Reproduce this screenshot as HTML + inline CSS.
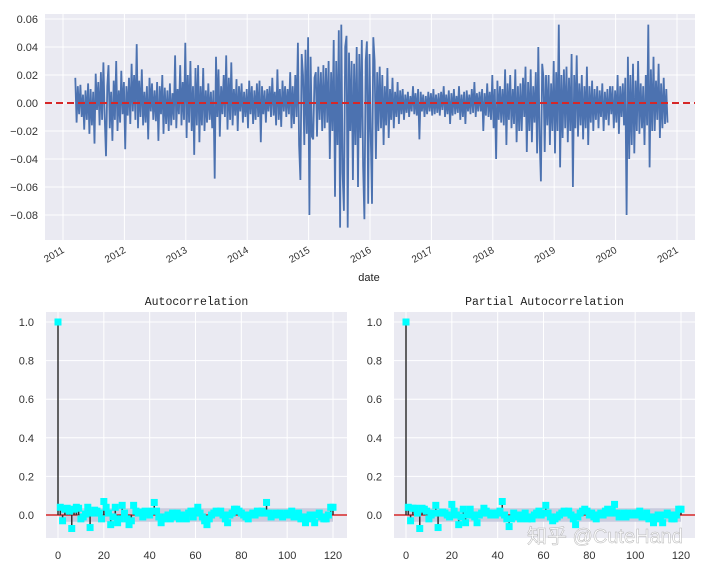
<!DOCTYPE html>
<html><head><meta charset="utf-8"><style>
body{margin:0;background:#fff;width:708px;height:564px;overflow:hidden}
svg{display:block;font-family:"Liberation Sans","Noto Sans CJK SC",sans-serif}
</style></head><body>
<svg id="c" width="708" height="564"></svg>
<script>
// ---- data ----
const returnsPerMille = [
// 2011.2 - 2012.2
18,-14,12,-8,13,-10,6,-19,9,-12,14,-22,10,-16,8,-29,21,-5,15,-16,22,-12,29,-10,
-38,12,27,-18,8,-27,16,-12,30,-20,9,-14,23,-8,15,-33,12,-9,18,-15,28,-6,20,-12,
// 2012.2 - 2013.2
42,-18,16,-10,24,-16,8,-14,12,-26,18,-6,14,-12,9,-13,15,-27,12,-8,20,-22,11,-15,
9,-20,14,-16,7,-12,34,-18,10,-8,27,-16,15,-12,43,-25,20,-14,30,-20,12,-37,25,-16,
// 2013.2 - 2014.2
27,-28,12,-16,25,-20,9,-14,14,-12,8,-18,9,-54,33,-10,24,-24,12,-8,20,-10,34,-19,
18,-12,29,-16,10,-9,17,-20,12,-6,14,-14,8,-10,10,-18,16,-8,12,-15,9,-12,14,-10,
// 2014.2 - 2015.2
16,-28,12,-8,9,-14,10,-6,12,-10,18,-9,8,-16,24,-12,10,-17,16,-6,12,-10,10,-8,
22,-18,12,-15,20,-10,43,-30,-55,35,20,-30,38,-22,47,-80,33,-24,-26,18,22,-24,26,-12,
// 2015.2 - 2016.2
22,-20,27,-18,25,-14,30,-40,22,-20,45,-67,30,-30,52,-89,56,-50,-77,40,48,-89,36,-20,
30,-55,28,-30,40,-60,35,-25,45,-45,-83,30,44,-72,35,-25,-72,47,30,-40,22,-20,26,-18,
// 2016.2 - 2017.2
20,-30,12,-16,25,-25,10,-12,18,-18,8,-10,15,-15,9,-8,10,-12,6,-7,8,-10,5,-6,
12,-8,7,-9,10,-26,8,-6,6,-10,5,-8,8,-6,7,-9,10,-8,6,-7,7,-9,8,-5,
// 2017.2 - 2018.2
12,-10,6,-8,9,-15,7,-9,10,-8,5,-7,12,-12,6,-10,8,-15,9,-6,6,-8,10,-7,
15,-10,7,-6,8,-6,10,-20,7,-9,14,-10,8,-12,20,-18,10,-40,16,-12,12,-14,10,-16,
// 2018.2 - 2019.2
24,-30,14,-12,20,-18,10,-15,24,-28,12,-20,14,-20,18,-10,26,-35,15,-20,24,-28,12,-14,
22,-36,40,-25,-56,28,18,-35,20,-16,20,-30,14,-20,30,-36,22,-20,56,-46,20,-25,24,-18,
// 2019.2 - 2020.2
26,-28,18,-20,35,-60,20,-18,34,-24,14,-16,20,-26,12,-18,26,-30,12,-14,16,-20,10,-12,
12,-18,9,-10,14,-20,8,-12,10,-16,12,-8,12,-18,9,-14,20,-22,12,-10,14,-16,18,-80,
// 2020.2 - 2020.85
33,-40,20,-30,28,-36,16,-20,30,-22,14,-18,12,-30,20,-16,56,-46,24,-20,33,-20,16,-12,
28,-25,14,-18,18,-15,10,-14];
const startYear = 2011.2;
const stepYears = 1/48;
const yearTicks = [2011,2012,2013,2014,2015,2016,2017,2018,2019,2020,2021];
const topYTicks = [0.06,0.04,0.02,0.00,-0.02,-0.04,-0.06,-0.08];
const acfValues = [1,0.04,-0.03,0.03,0.035,0.02,-0.07,0.03,0.04,0.035,-0.02,-0.01,0.005,0.04,-0.065,0.01,0.025,0.02,0.01,-0.02,
0.07,0.04,0.01,-0.05,-0.01,0.04,-0.04,-0.02,0.05,0.01,-0.02,-0.05,-0.03,0.05,0.02,0.01,0.015,-0.01,0.02,0.01,
0.0,0.02,0.065,0.02,-0.01,-0.04,-0.02,-0.01,0.0,-0.02,0.01,-0.01,0.01,-0.02,0.0,-0.01,-0.02,0.01,0.02,-0.01,
0.02,0.04,0.01,-0.01,-0.03,-0.05,-0.02,0.0,0.01,0.02,0.01,0.02,0.0,-0.02,-0.04,0.0,0.01,0.03,0.03,0.02,
0.01,0.0,-0.01,-0.02,0.0,0.01,0.0,0.02,0.01,0.02,0.01,0.065,0.01,-0.01,0.0,0.01,0.0,0.01,-0.01,0.0,
0.01,0.0,0.02,-0.01,0.0,0.01,-0.02,-0.01,-0.04,-0.02,0.0,-0.01,-0.04,0.0,0.01,-0.01,-0.02,-0.02,0.0,0.04,0.04];
const pacfValues = [1,0.04,-0.03,0.035,0.035,0.01,-0.07,0.035,0.03,0.02,-0.02,0.0,0.01,0.05,-0.065,0.01,0.015,0.01,0.0,-0.01,
0.055,0.02,0.0,-0.05,-0.01,0.03,-0.04,0.0,0.03,0.0,-0.01,-0.04,0.0,0.01,0.035,0.02,0.01,0.0,0.01,0.0,
0.01,0.02,0.07,0.0,-0.02,-0.06,-0.02,0.01,0.0,-0.01,-0.02,0.0,0.01,-0.02,-0.01,-0.02,0.0,0.01,0.02,0.0,
0.01,0.05,0.01,-0.01,-0.03,-0.02,-0.01,0.0,0.01,0.02,0.01,0.02,0.0,-0.02,-0.05,-0.01,0.01,0.02,0.03,0.02,
0.0,0.01,-0.01,-0.02,0.0,0.01,0.0,0.02,0.03,0.01,0.02,0.055,0.01,-0.01,0.0,0.01,-0.01,0.01,0.0,0.0,
0.01,0.0,0.02,-0.01,0.0,0.01,-0.02,-0.01,-0.04,-0.02,0.0,-0.01,-0.04,0.0,0.01,0.0,-0.02,-0.02,0.0,0.03,0.03];
const lagTicks = [0,20,40,60,80,100,120];
const corrTicks = [1.0,0.8,0.6,0.4,0.2,0.0];
const confBand = 0.035;

// ---- helpers ----
const svg = document.getElementById('c');
const NS = 'http://www.w3.org/2000/svg';
function el(tag, attrs, parent){
  const e = document.createElementNS(NS, tag);
  for (const k in attrs) e.setAttribute(k, attrs[k]);
  (parent||svg).appendChild(e); return e;
}
function txt(s, attrs, parent){ const t = el('text', attrs, parent); t.textContent = s; return t; }

// ---- top chart ----
const T = {x0:45, x1:695, y0:14, y1:240};
const xYear = y => 63 + (y - 2011) * 61.4;
const yRet = v => 103 - v * 1400;
const bg = el('rect', {x:T.x0, y:T.y0, width:T.x1-T.x0, height:T.y1-T.y0, fill:'#eaeaf2'});


topYTicks.forEach(v => {
  const g = el('line', {x1:T.x0, x2:T.x1, y1:yRet(v), y2:yRet(v), stroke:'#fff', 'stroke-width':1});
  
  
  const t = txt(v.toFixed(2).replace('-', '−'), {x:38, y:yRet(v)+4, 'text-anchor':'end', 'font-size':11, fill:'#333'});
  
  
});
yearTicks.forEach(yr => {
  const x = xYear(yr);
  const g = el('line', {x1:x, x2:x, y1:T.y0, y2:T.y1, stroke:'#fff', 'stroke-width':1});
  
  
  const t = txt(String(yr), {x:x+2, y:252, 'text-anchor':'end', 'font-size':10, fill:'#333', transform:`rotate(-30 ${x+2} 252)`});
  
  
});
let d = '';
returnsPerMille.forEach((v, i) => {
  const x = xYear(startYear + i * stepYears), y = yRet(v / 1000);
  d += (i ? 'L' : 'M') + x.toFixed(1) + ',' + y.toFixed(1);
});
const line = el('path', {d, fill:'none', stroke:'#4c72b0', 'stroke-width':1.8, 'stroke-linejoin':'bevel'});


const zl = el('line', {x1:T.x0, x2:T.x1, y1:yRet(0), y2:yRet(0), stroke:'#d62728', 'stroke-width':2, 'stroke-dasharray':'7,4'});


const dl = txt('date', {x:369, y:281, 'text-anchor':'middle', 'font-size':11, fill:'#222'});



// ---- correlation plots ----
function corrPlot(name, title, vals, P){
  const xL = l => P.z + l * (P.e - P.z) / 120;
  const yC = v => 515 - v * 193;
  const r = el('rect', {x:P.x0, y:312, width:P.x1-P.x0, height:226, fill:'#eaeaf2'});
  
  
  corrTicks.forEach(v => {
    const g = el('line', {x1:P.x0, x2:P.x1, y1:yC(v), y2:yC(v), stroke:'#fff'});
    
    
    const t = txt(v.toFixed(1), {x:P.x0-12, y:yC(v)+4, 'text-anchor':'end', 'font-size':11, fill:'#333'});
    
    
  });
  lagTicks.forEach(l => {
    const g = el('line', {x1:xL(l), x2:xL(l), y1:312, y2:538, stroke:'#fff'});
    
    
    const t = txt(String(l), {x:xL(l), y:559, 'text-anchor':'middle', 'font-size':11, fill:'#333'});
    
    
  });
  const band = el('rect', {x:xL(0.5), y:yC(confBand), width:xL(120)-xL(0.5), height:yC(-confBand)-yC(confBand), fill:'#c5c8dc', opacity:0.9});
  
  
  const zl = el('line', {x1:P.x0, x2:P.x1, y1:yC(0), y2:yC(0), stroke:'#d62728', 'stroke-width':1.5});
  
  
  vals.forEach((v, l) => {
    const s = el('line', {x1:xL(l), x2:xL(l), y1:yC(0), y2:yC(v), stroke:'#333', 'stroke-width':1.5});
    
    
  });
  vals.forEach((v, l) => {
    const m = el('rect', {x:xL(l)-3.5, y:yC(v)-3.5, width:7, height:7, fill:'#00ffff'});
    
    
  });
  const tt = txt(title, {x:(P.x0+P.x1)/2, y:305, 'text-anchor':'middle', 'font-size':11.5, fill:'#222', 'font-family':'"Liberation Mono",monospace'});
  
  
}
corrPlot('acf', 'Autocorrelation', acfValues, {x0:46, x1:347, z:58, e:333});
corrPlot('pacf', 'Partial Autocorrelation', pacfValues, {x0:394, x1:695, z:406, e:681});

const wm = txt('知乎 @CuteHand', {x:527, y:543, 'font-size':20, fill:'#ffffff', opacity:0.85, stroke:'#aaa', 'stroke-width':0.5});


</script>
</body></html>
